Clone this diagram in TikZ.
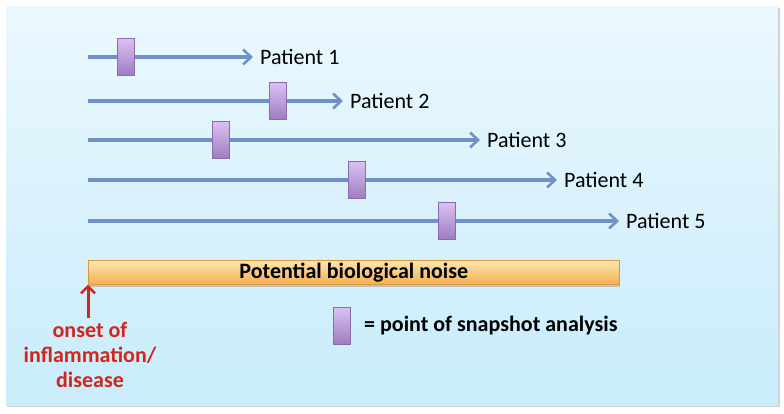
\documentclass[tikz,border=0pt]{standalone}
\usepackage{fontspec}
\setmainfont{Carlito}
\usetikzlibrary{arrows.meta,shadows}
\definecolor{bgtop}{HTML}{EBF8FE}
\definecolor{bgbot}{HTML}{C9ECFB}
\definecolor{arr}{HTML}{6F90C8}
\definecolor{boxtop}{HTML}{DCC0F2}
\definecolor{boxbot}{HTML}{9C7DC0}
\definecolor{boxdraw}{HTML}{8A6CAE}
\definecolor{bartop}{HTML}{FDE6B0}
\definecolor{barbot}{HTML}{F4AE52}
\definecolor{bardraw}{HTML}{D99A3C}
\definecolor{redtxt}{HTML}{D0261E}
\tikzset{
  tline/.style={draw=arr, line width=3.2pt, -{Straight Barb[length=8pt,width=15pt,line width=2.6pt]}},
  snap/.style={draw=boxdraw, line width=0.6pt, top color=boxtop, bottom color=boxbot, minimum width=17pt, minimum height=37pt, inner sep=0pt},
  plabel/.style={anchor=west, font=\fontsize{22}{24}\selectfont, inner sep=0pt},
}
\begin{document}
\begin{tikzpicture}[x=1pt,y=-1pt]
\useasboundingbox (0,0) rectangle (784,413);
\fill[white] (0,0) rectangle (784,413);
\fill[black!18] (7,8) rectangle (780,407);
\shade[top color=bgtop, bottom color=bgbot] (6,6) rectangle (778,405);
% timelines
\foreach \i/\y/\e/\b in {1/57/253/126, 2/101/343/278, 3/140/480/221, 4/180/557/357, 5/221/619/447}{
  \coordinate (s\i) at (88,\y);
  \coordinate (e\i) at (\e,\y);
  \draw[tline] (s\i) -- (e\i);
  \node[snap] (b\i) at (\b,\y) {};
  \node[plabel] (p\i) at ([xshift=7pt]e\i) {Patient \i};
}
% noise bar
\fill[black!25] (89,262) rectangle (620,287);
\node[draw=bardraw, line width=0.6pt, top color=bartop, bottom color=barbot, minimum width=531pt, minimum height=24pt, inner sep=0pt, anchor=north west, font=\bfseries\fontsize{22}{24}\selectfont] (bar) at (88,260) {Potential biological noise};
% onset arrow
\coordinate (o) at (88,318);
\draw[draw=redtxt, line width=3pt, -{Straight Barb[length=7pt,width=14pt,line width=2.5pt]}] (o) -- (bar.south west);
\node[text=redtxt, font=\bfseries\fontsize{22}{25}\selectfont, align=center, anchor=north] (onset) at (90,319) {onset of\\inflammation/\\disease};
% legend
\node[snap] (lb) at (342,326) {};
\node[anchor=west, font=\bfseries\fontsize{22}{24}\selectfont, inner sep=0pt] (lt) at (364,326) {= point of snapshot analysis};
\end{tikzpicture}
\end{document}
